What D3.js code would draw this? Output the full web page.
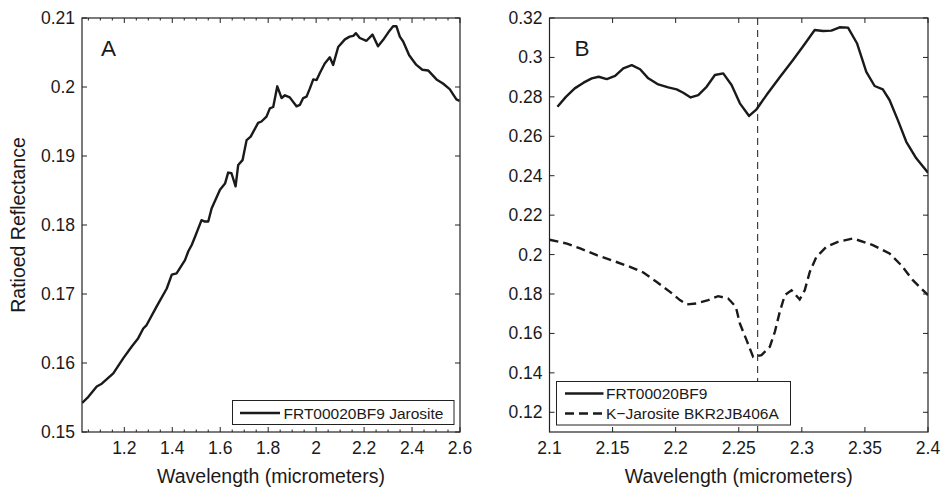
<!DOCTYPE html>
<html>
<head>
<meta charset="utf-8">
<script src="https://cdn.jsdelivr.net/npm/d3@7"></script>
<style>
  body { margin: 0; background: #fff; }
  svg text { font-family: "Liberation Sans", Arial, sans-serif; fill: #1a1a1a; }
</style>
</head>
<body>
<div id="chart-area"></div>
<script>
// Panel A: full-range spectrum
const aWave = [1.024, 1.05, 1.085, 1.106, 1.154, 1.196, 1.231, 1.258, 1.279, 1.293, 1.335, 1.377, 1.398, 1.418,
  1.453, 1.467, 1.481, 1.495, 1.522, 1.536, 1.55, 1.564, 1.599, 1.62, 1.633, 1.647, 1.664, 1.675, 1.693, 1.71,
  1.727, 1.758, 1.772, 1.793, 1.807, 1.821, 1.838, 1.856, 1.87, 1.89, 1.918, 1.932, 1.946, 1.96, 1.974, 1.988,
  2.002, 2.015, 2.036, 2.057, 2.071, 2.092, 2.12, 2.14, 2.155, 2.166, 2.182, 2.21, 2.235, 2.258, 2.279, 2.307,
  2.321, 2.335, 2.349, 2.363, 2.388, 2.418, 2.443, 2.467, 2.502, 2.529, 2.557, 2.585, 2.598];
const aRefl = [0.1542, 0.1551, 0.1566, 0.157, 0.1585, 0.1607, 0.1624, 0.1636, 0.165, 0.1655, 0.1682, 0.1708, 0.1728, 0.173,
  0.1749, 0.1762, 0.1771, 0.1783, 0.1807, 0.1805, 0.1805, 0.1824, 0.1851, 0.186, 0.1876, 0.1875, 0.1856, 0.1887, 0.1894, 0.1923,
  0.1928, 0.1948, 0.195, 0.1957, 0.1969, 0.1971, 0.2001, 0.1984, 0.1988, 0.1985, 0.1972, 0.1974, 0.1984, 0.1986, 0.1998, 0.2011,
  0.201, 0.202, 0.2034, 0.2043, 0.2032, 0.2058, 0.2069, 0.2073, 0.2074, 0.2078, 0.2071, 0.2067, 0.2076, 0.2059, 0.2068, 0.2082,
  0.2088, 0.2088, 0.2073, 0.2066, 0.2046, 0.2032, 0.2025, 0.2024, 0.2011, 0.2005, 0.1997, 0.1982, 0.198];

// Panel B: observed spectrum and library spectrum
const bObsWave = [2.1063, 2.113, 2.12, 2.127, 2.1335, 2.139, 2.1454, 2.152, 2.1585, 2.1652, 2.1718, 2.1783, 2.1862, 2.1941,
  2.2008, 2.206, 2.2119, 2.2179, 2.2245, 2.2311, 2.2377, 2.2443, 2.2509, 2.2582, 2.2641, 2.272, 2.2825, 2.293, 2.3023,
  2.3102, 2.3168, 2.3234, 2.33, 2.3366, 2.3437, 2.3511, 2.3577, 2.3642, 2.3695, 2.3761, 2.3828, 2.3907, 2.4];
const bObsRefl = [0.275, 0.28, 0.2843, 0.2872, 0.2894, 0.2902, 0.289, 0.2906, 0.2945, 0.2961, 0.294, 0.2894, 0.2863, 0.2848,
  0.2838, 0.2821, 0.2797, 0.2809, 0.2851, 0.2911, 0.2919, 0.286, 0.2767, 0.2703, 0.2737, 0.2809, 0.2899, 0.2987, 0.3068,
  0.3139, 0.3134, 0.3136, 0.3153, 0.3151, 0.3072, 0.2927, 0.2855, 0.2838, 0.2784, 0.2682, 0.2572, 0.2488, 0.2415];
const bLabWave = [2.1, 2.1138, 2.1243, 2.1375, 2.1506, 2.1638, 2.1744, 2.185, 2.1955, 2.2034, 2.2087, 2.2166, 2.2258,
  2.2337, 2.2416, 2.2477, 2.2509, 2.2562, 2.2614, 2.268, 2.2746, 2.2786, 2.2825, 2.2865, 2.2918, 2.2983, 2.3023,
  2.3063, 2.3115, 2.3194, 2.3286, 2.3405, 2.3563, 2.3695, 2.3788, 2.388, 2.3986, 2.4];
const bLabRefl = [0.2075, 0.2056, 0.2031, 0.1997, 0.1968, 0.1938, 0.1909, 0.1861, 0.1811, 0.1769, 0.1747, 0.1752, 0.1769,
  0.1789, 0.1777, 0.1735, 0.165, 0.1566, 0.1481, 0.149, 0.1532, 0.1608, 0.1709, 0.1794, 0.1819, 0.1772, 0.1819,
  0.1912, 0.1988, 0.2039, 0.2064, 0.2082, 0.2048, 0.2006, 0.1946, 0.187, 0.1803, 0.1794];
const bandCenter = 2.265;

// Axis ticks
const aXTicks = [1.2, 1.4, 1.6, 1.8, 2, 2.2, 2.4, 2.6];
const aXMinor = d3.range(1.05, 2.6001, 0.05);
const aYTicks = [0.15, 0.16, 0.17, 0.18, 0.19, 0.2, 0.21];
const bXTicks = [2.1, 2.15, 2.2, 2.25, 2.3, 2.35, 2.4];
const bYTicks = [0.12, 0.14, 0.16, 0.18, 0.2, 0.22, 0.24, 0.26, 0.28, 0.3, 0.32];

const axisColor = "#222";
const lineColor = "#1a1a1a";
const lineW = 2.4;
const fmt = v => String(+v.toFixed(3));

const svg = d3.select("#chart-area").append("svg")
  .attr("width", 941)
  .attr("height", 487);

function drawPanel(opt) {
  const { left, top, right, bottom } = opt.box;
  const w = right - left, h = bottom - top;
  const g = svg.append("g").attr("transform", `translate(${left},${top})`);

  const x = d3.scaleLinear().domain(opt.xDomain).range([0, w]);
  const y = d3.scaleLinear().domain(opt.yDomain).range([h, 0]);

  g.append("clipPath").attr("id", opt.id + "-clip")
    .append("rect").attr("width", w).attr("height", h);

  const plot = g.append("g").attr("clip-path", `url(#${opt.id}-clip)`);

  // inward ticks on all four sides
  const tickLen = 5, minorLen = 2.5;
  const tickG = g.append("g").attr("stroke", axisColor).attr("stroke-width", 1);
  opt.xTicks.forEach(t => {
    tickG.append("line").attr("x1", x(t)).attr("x2", x(t)).attr("y1", h).attr("y2", h - tickLen);
    tickG.append("line").attr("x1", x(t)).attr("x2", x(t)).attr("y1", 0).attr("y2", tickLen);
  });
  (opt.xMinor || []).forEach(t => {
    tickG.append("line").attr("x1", x(t)).attr("x2", x(t)).attr("y1", h).attr("y2", h - minorLen);
    tickG.append("line").attr("x1", x(t)).attr("x2", x(t)).attr("y1", 0).attr("y2", minorLen);
  });
  opt.yTicks.forEach(t => {
    tickG.append("line").attr("x1", 0).attr("x2", tickLen).attr("y1", y(t)).attr("y2", y(t));
    tickG.append("line").attr("x1", w).attr("x2", w - tickLen).attr("y1", y(t)).attr("y2", y(t));
  });

  // tick labels
  g.append("g").selectAll("text").data(opt.xTicks).join("text")
    .attr("x", d => x(d)).attr("y", h + 22)
    .attr("text-anchor", "middle").attr("font-size", 17.5)
    .text(fmt);
  g.append("g").selectAll("text").data(opt.yTicks).join("text")
    .attr("x", -7).attr("y", d => y(d) + 6)
    .attr("text-anchor", "end").attr("font-size", 17.5)
    .text(fmt);

  g.append("text")
    .attr("x", w / 2).attr("y", h + 51)
    .attr("text-anchor", "middle").attr("font-size", 19.5)
    .text("Wavelength (micrometers)");

  g.append("text")
    .attr("x", opt.letterX).attr("y", 38)
    .attr("font-size", 22.5)
    .text(opt.letter);

  return { g, plot, x, y, w, h };
}

// ---- Panel A ----
const A = drawPanel({
  id: "a", box: { left: 82, top: 18, right: 460, bottom: 432 },
  xDomain: [1.0235, 2.6], yDomain: [0.15, 0.21],
  xTicks: aXTicks, xMinor: aXMinor.filter(t => !aXTicks.some(m => Math.abs(m - t) < 1e-6)),
  yTicks: aYTicks, letter: "A", letterX: 19
});

A.plot.append("path")
  .datum(aWave.map((d, i) => [d, aRefl[i]]))
  .attr("fill", "none").attr("stroke", lineColor).attr("stroke-width", lineW)
  .attr("stroke-linejoin", "round")
  .attr("d", d3.line().x(d => A.x(d[0])).y(d => A.y(d[1])));

svg.append("text")
  .attr("transform", "translate(25,225) rotate(-90)")
  .attr("text-anchor", "middle").attr("font-size", 19.5)
  .text("Ratioed Reflectance");

// legend A
const legA = svg.append("g").attr("transform", "translate(232.5,400.5)");
legA.append("rect").attr("width", 221.5).attr("height", 24)
  .attr("fill", "#fff").attr("stroke", axisColor).attr("stroke-width", 1);
legA.append("line").attr("x1", 7.5).attr("x2", 47.5).attr("y1", 12.5).attr("y2", 12.5)
  .attr("stroke", lineColor).attr("stroke-width", lineW);
legA.append("text").attr("x", 51).attr("y", 18).attr("font-size", 15.5).text("FRT00020BF9 Jarosite");

// ---- Panel B ----
const B = drawPanel({
  id: "b", box: { left: 549.5, top: 18, right: 928, bottom: 432 },
  xDomain: [2.1, 2.4], yDomain: [0.11, 0.32],
  xTicks: bXTicks, yTicks: bYTicks, letter: "B", letterX: 25
});

B.plot.append("line")
  .attr("x1", B.x(bandCenter)).attr("x2", B.x(bandCenter))
  .attr("y1", 0).attr("y2", B.h)
  .attr("stroke", lineColor).attr("stroke-width", 1)
  .attr("stroke-dasharray", "7,5");

B.plot.append("path")
  .datum(bObsWave.map((d, i) => [d, bObsRefl[i]]))
  .attr("fill", "none").attr("stroke", lineColor).attr("stroke-width", lineW)
  .attr("stroke-linejoin", "round")
  .attr("d", d3.line().x(d => B.x(d[0])).y(d => B.y(d[1])));

B.plot.append("path")
  .datum(bLabWave.map((d, i) => [d, bLabRefl[i]]))
  .attr("fill", "none").attr("stroke", lineColor).attr("stroke-width", lineW)
  .attr("stroke-dasharray", "9,5")
  .attr("d", d3.line().x(d => B.x(d[0])).y(d => B.y(d[1])));

// legend B
const legB = svg.append("g").attr("transform", "translate(556.5,381.5)");
legB.append("rect").attr("width", 234).attr("height", 43.5)
  .attr("fill", "#fff").attr("stroke", axisColor).attr("stroke-width", 1);
legB.append("line").attr("x1", 8.5).attr("x2", 47).attr("y1", 12).attr("y2", 12)
  .attr("stroke", lineColor).attr("stroke-width", lineW);
legB.append("line").attr("x1", 8.5).attr("x2", 47).attr("y1", 32).attr("y2", 32)
  .attr("stroke", lineColor).attr("stroke-width", lineW).attr("stroke-dasharray", "9,5");
legB.append("text").attr("x", 49.5).attr("y", 17.5).attr("font-size", 15.5).text("FRT00020BF9");
legB.append("text").attr("x", 49.5).attr("y", 37.5).attr("font-size", 15.5).text("K\u2212Jarosite BKR2JB406A");

// axes boxes on top
[A, B].forEach(p => {
  p.g.append("rect").attr("width", p.w).attr("height", p.h)
    .attr("fill", "none").attr("stroke", axisColor).attr("stroke-width", 1.2);
});
</script>
</body>
</html>
